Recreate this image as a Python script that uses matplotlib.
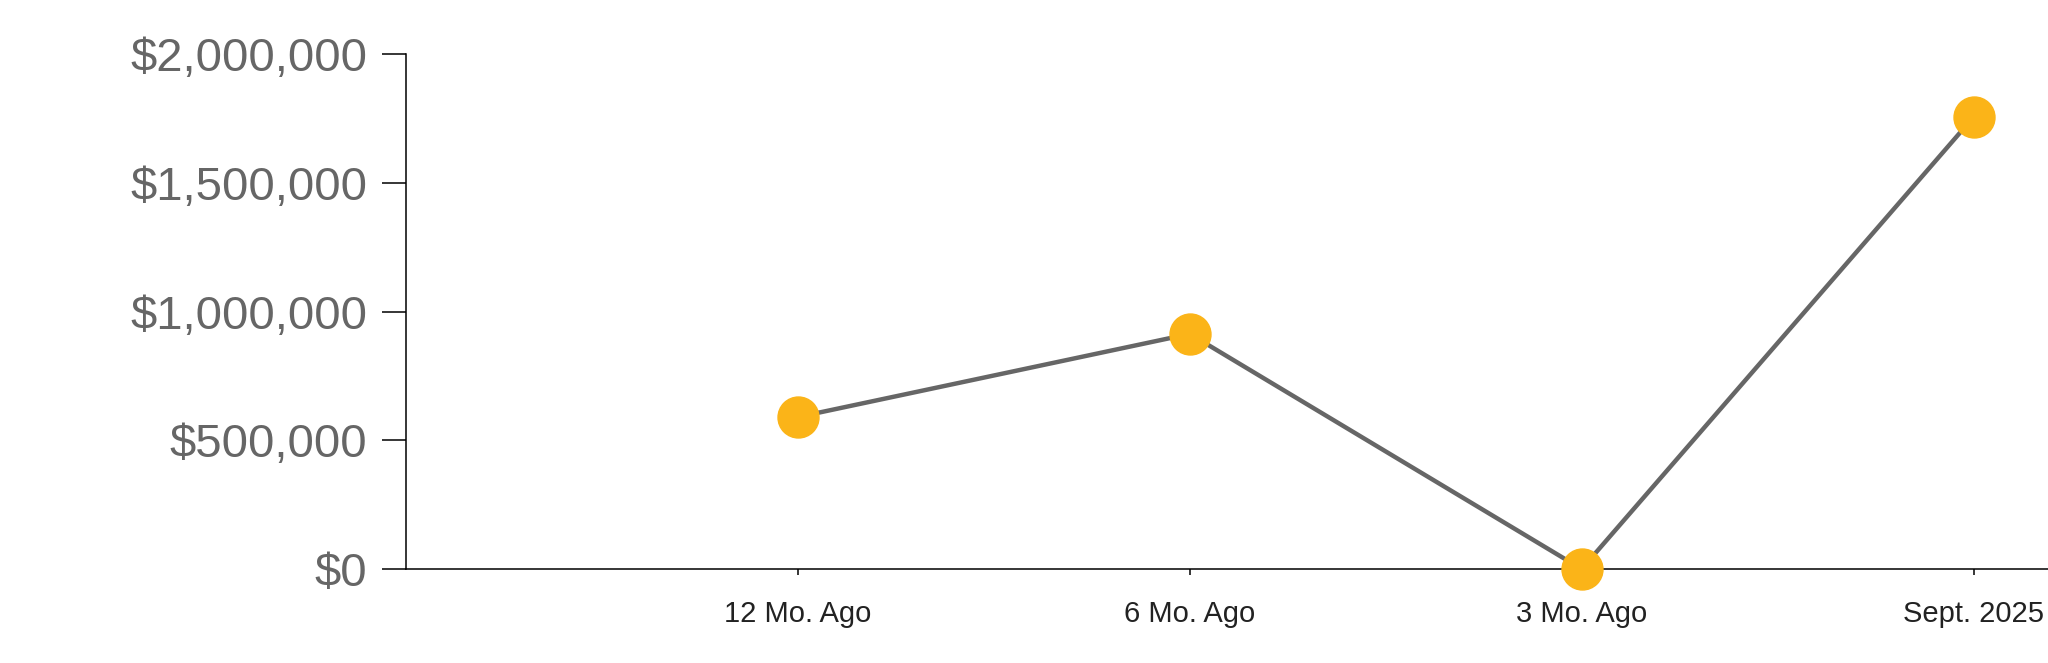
import matplotlib
matplotlib.use('Agg')
import matplotlib.pyplot as plt
from matplotlib.ticker import FuncFormatter

plt.rcParams['font.family'] = ['Liberation Sans', 'DejaVu Sans']

categories = ['12 Mo. Ago', '6 Mo. Ago', '3 Mo. Ago', 'Sept. 2025']
values = [590000, 913000, 0, 1755000]
y_ticks = [0, 500000, 1000000, 1500000, 2000000]

fig = plt.figure(figsize=(20.48, 6.63), dpi=100)
ax = fig.add_axes([406 / 2048, 94 / 663, 1 - 406 / 2048, 515 / 663])

x = list(range(len(categories)))
ax.plot(x, values, color='#666666', lw=3.2, zorder=2, clip_on=False)
ax.plot(x, values, linestyle='none', marker='o', markersize=29.5,
        markerfacecolor='#FBB418', markeredgecolor='#FBB418', zorder=3, clip_on=False)

ax.set_xlim(-1, 3.19)
ax.set_ylim(0, 2000000)

ax.set_xticks(x)
ax.set_xticklabels(categories)
ax.set_yticks(y_ticks)
ax.yaxis.set_major_formatter(FuncFormatter(lambda v, p: '${:,.0f}'.format(v)))

for s in ['top', 'right']:
    ax.spines[s].set_visible(False)
for s in ['left', 'bottom']:
    ax.spines[s].set_color('black')
    ax.spines[s].set_linewidth(1.1)

ax.tick_params(axis='y', length=17, width=1.1, pad=11, labelsize=34, labelcolor='#666666')
ax.tick_params(axis='x', length=4.5, width=1.1, pad=18, labelsize=21, labelcolor='#222222')

fig.savefig('out.png', dpi=100, facecolor='white')
